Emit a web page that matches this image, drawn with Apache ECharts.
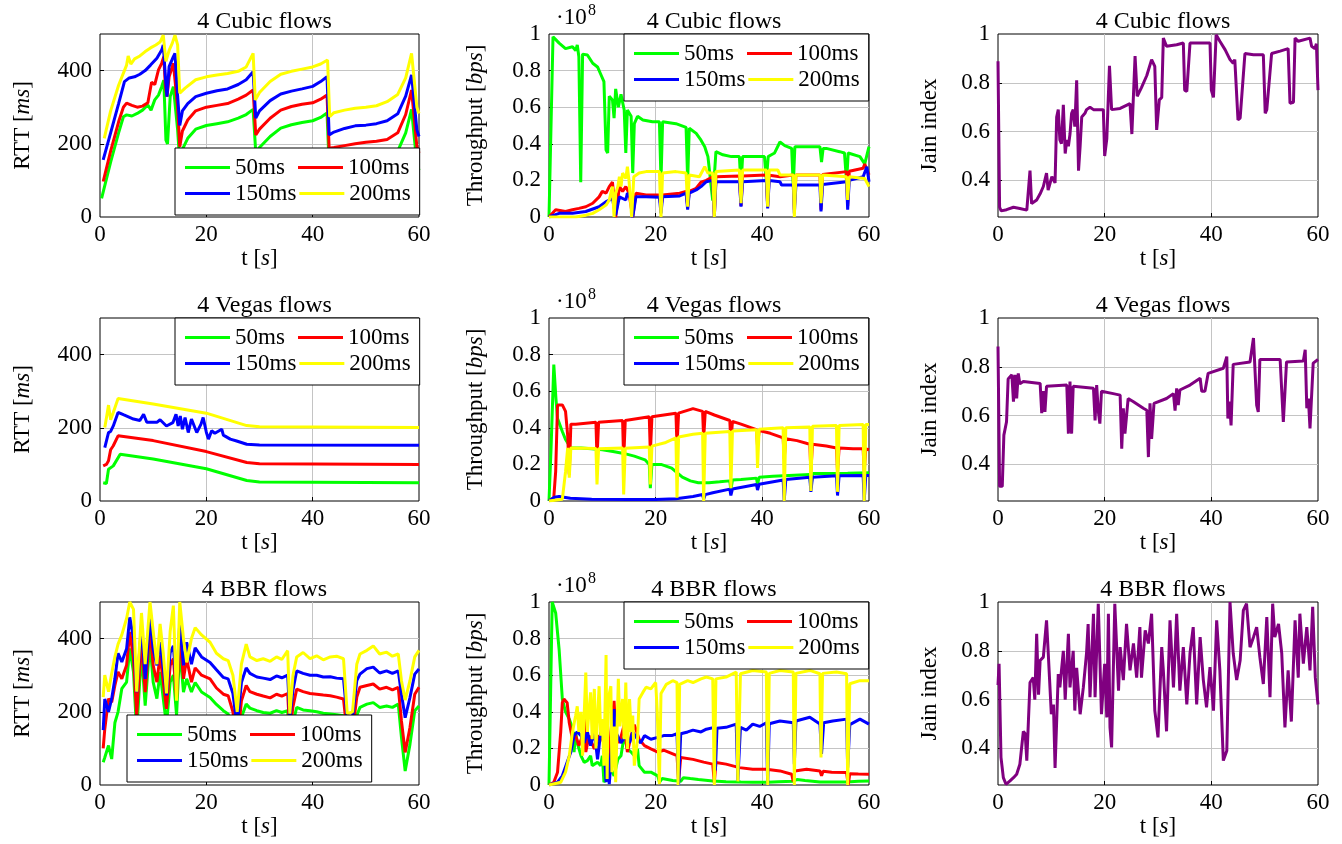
<!DOCTYPE html>
<html><head><meta charset="utf-8">
<script src="https://cdn.jsdelivr.net/npm/echarts@6/dist/echarts.min.js"></script>
<style>html,body{margin:0;padding:0;background:#fff}#c{width:1342px;height:844px}</style>
</head><body><div id="c"></div>
<script>
const FONT = '"Liberation Serif","Times New Roman",serif';
const flowNames = ['50ms','100ms','150ms','200ms'];
const flowColors = ['#00ff00','#ff0000','#0000ff','#ffff00'];
const jainColor = '#800080';
const rowTitles = ['4 Cubic flows','4 Vegas flows','4 BBR flows'];
const xTickLabels = [0,20,40,60];
const rttTickLabels = [0,200,400];
const thrTickLabels = [0,0.2,0.4,0.6,0.8,1];
const jainTickLabels = [0.4,0.6,0.8,1];

// ---------- Cubic RTT [ms] ----------
const cubicRtt50 = [[0.3,51],[2,150],[3.5,230],[4.4,274],[5,279],[6,276],[7,283],[8,292],[9,306],[9.6,292],[10.3,320],[11,333],[11.6,356],[12,374],[12.4,210],[12.7,200],[13.2,329],[13.8,356],[14.1,361],[14.6,238],[15,150],[15.5,185],[16.5,215],[18,240],[20,250],[22,255],[24,260],[26,270],[27.5,280],[28.8,294],[29.3,175],[30,190],[32,220],[34,243],[36,252],[38,258],[40,263],[41.5,272],[42.7,284],[43.1,140],[44,142],[46,147],[48,152],[50,155],[52,158],[54,163],[56,180],[57.5,230],[58.6,294],[59.6,145],[60,128]];
const cubicRtt100 = [[0.6,97],[2,180],[3.5,260],[4.4,300],[5,311],[6,305],[7,300],[8,303],[9,312],[9.7,368],[10.3,362],[11,402],[11.6,420],[12,438],[12.3,356],[12.6,329],[13,383],[13.8,420],[14.1,424],[14.6,300],[15,192],[15.5,235],[16.5,265],[18,290],[20,300],[22,305],[24,310],[26,322],[27.5,333],[28.8,347],[29.3,224],[30,240],[32,270],[34,292],[36,302],[38,308],[40,312],[41.5,322],[42.7,333],[43.1,188],[44,190],[46,195],[48,200],[50,204],[52,207],[54,212],[56,230],[57.5,280],[58.6,347],[59.6,192],[60,175]];
const cubicRtt150 = [[0.6,156],[2,230],[3.5,310],[4.6,370],[5.5,380],[6.5,383],[7.5,390],[8.5,400],[9.5,415],[10.7,434],[11.6,456],[11.9,470],[12.3,383],[12.6,329],[13,411],[13.8,438],[14.1,447],[14.6,330],[15,250],[15.5,290],[16.5,310],[18,329],[20,338],[22,345],[24,350],[26,362],[27.5,375],[28.8,397],[29.3,270],[30,290],[32,318],[34,336],[36,344],[38,350],[40,357],[41.5,370],[42.7,383],[43.1,224],[44,232],[46,242],[48,249],[50,251],[52,255],[54,263],[56,282],[57.5,330],[58.6,388],[59.6,238],[60,220]];
const cubicRtt200 = [[0.8,215],[2,290],[3.5,360],[5,415],[5.3,440],[5.8,418],[6.5,432],[7.5,440],[8.5,452],[9.5,462],[10.5,470],[11.3,478],[11.9,497],[12.4,425],[13,455],[13.6,475],[14.1,497],[14.6,470],[15,338],[16,352],[18,375],[20,383],[22,388],[24,392],[26,398],[27.5,410],[28.8,447],[29.2,320],[30,340],[32,370],[34,390],[36,398],[38,404],[40,410],[41.5,418],[42.8,429],[43.2,274],[44,285],[46,292],[48,297],[50,300],[52,304],[54,315],[56,335],[57.5,380],[58.6,447],[59.6,300],[60,283]];

// ---------- Cubic throughput [1e8 bps] ----------
const cubicThr50 = [[0,0],[0.75,0.985],[1.9,0.95],[3.1,0.92],[4.4,0.93],[5,0.91],[5.3,0.94],[5.6,0.876],[5.95,0.19],[6.3,0.89],[7.2,0.885],[8.2,0.84],[9.1,0.82],[9.7,0.78],[10.3,0.74],[10.7,0.366],[11,0.35],[11.3,0.66],[11.9,0.64],[12.2,0.54],[12.5,0.70],[13,0.60],[13.5,0.67],[14.1,0.585],[14.4,0.35],[14.7,0.585],[15.4,0.55],[15.7,0.24],[16,0.51],[16.6,0.55],[17.6,0.53],[19.4,0.52],[20.7,0.52],[21,0.2],[21.3,0.52],[23.8,0.51],[25.7,0.49],[26,0.2],[26.3,0.485],[27.6,0.457],[28.5,0.42],[29.2,0.384],[29.5,0.357],[29.8,0.33],[30.7,0.09],[31.3,0.357],[32.6,0.34],[34.2,0.33],[35.7,0.33],[36,0.166],[36.3,0.33],[39.5,0.33],[40.4,0.33],[40.75,0.2],[41.1,0.33],[41.7,0.34],[42.3,0.35],[43.3,0.41],[44.2,0.39],[45.5,0.375],[45.8,0.166],[46.1,0.384],[48.9,0.384],[50.8,0.384],[51.1,0.3],[51.4,0.375],[52,0.375],[54.5,0.357],[55.4,0.35],[55.8,0.19],[56.1,0.35],[58.3,0.33],[59.2,0.29],[60,0.384]];
const cubicThr100 = [[0,0],[1.25,0.04],[3.1,0.03],[4.4,0.04],[5.6,0.047],[6.9,0.056],[8.2,0.075],[9.4,0.11],[10,0.14],[10.7,0.13],[11.3,0.166],[11.9,0.19],[12.5,0.0],[13.2,0.166],[13.8,0.14],[14.4,0.166],[15,0.13],[15.7,0.0],[16.3,0.13],[18.2,0.12],[20.7,0.12],[21,0.05],[21.3,0.12],[24.5,0.13],[25.7,0.14],[26,0.06],[26.3,0.14],[27.6,0.157],[28.5,0.19],[29.5,0.2],[30.7,0.22],[31,0.0],[31.3,0.22],[35.7,0.224],[36,0.06],[36.3,0.224],[40.75,0.23],[41,0.06],[41.3,0.228],[43.3,0.22],[45.8,0.23],[46,0.04],[46.3,0.23],[50.8,0.23],[51,0.04],[51.3,0.232],[55.8,0.248],[56,0.06],[56.3,0.25],[58.9,0.266],[59.2,0.29],[60,0.23]];
const cubicThr150 = [[0,0],[1.9,0.02],[4.4,0.02],[6.9,0.03],[9.4,0.056],[10.7,0.084],[11.9,0.10],[12.5,0.01],[13.2,0.11],[14.4,0.093],[14.7,0.13],[15.4,0.1],[15.7,0.0],[16.3,0.11],[18.2,0.11],[20.7,0.108],[21,0.02],[21.3,0.11],[24.5,0.115],[25.7,0.13],[26,0.04],[26.3,0.13],[27.6,0.148],[28.5,0.166],[29.5,0.193],[30.7,0.2],[31,0.0],[31.3,0.193],[35.7,0.193],[36,0.056],[36.3,0.193],[40.75,0.2],[41,0.047],[41.3,0.2],[43.3,0.193],[43.6,0.175],[45.8,0.175],[46,0.02],[46.3,0.175],[50.8,0.175],[51,0.03],[51.3,0.177],[55.8,0.193],[56,0.04],[56.3,0.2],[58.9,0.22],[59.6,0.275],[60,0.193]];
const cubicThr200 = [[0,0],[5,0],[6.9,0.01],[8.2,0.02],[9.4,0.04],[10.7,0.065],[11.3,0.093],[11.6,0.13],[11.9,0.166],[12.2,0.0],[12.5,0.13],[12.9,0.166],[13.2,0.22],[13.5,0.166],[13.8,0.24],[14.4,0.21],[14.7,0.275],[15,0.2],[15.5,0.0],[15.9,0.22],[16.9,0.24],[18.2,0.248],[20.7,0.248],[21,0.0],[21.3,0.24],[23.8,0.248],[25.7,0.24],[26,0.056],[26.3,0.23],[28.2,0.22],[29.2,0.275],[29.8,0.24],[30.7,0.24],[31,0.0],[31.3,0.248],[35.7,0.257],[36,0.075],[36.3,0.257],[40.75,0.257],[41,0.056],[41.3,0.257],[42.9,0.257],[43.3,0.23],[45.8,0.23],[46,0.0],[46.3,0.23],[50.8,0.23],[51,0.075],[51.3,0.23],[55.8,0.22],[56,0.093],[56.3,0.22],[59.2,0.21],[60,0.166]];

// ---------- Cubic Jain index ----------
const cubicJain = [[0,0.888],[0.3,0.29],[0.6,0.275],[1.6,0.28],[2.9,0.29],[4.1,0.285],[5.4,0.278],[6,0.44],[6.3,0.305],[7.25,0.32],[7.9,0.345],[8.5,0.375],[9.1,0.43],[9.4,0.36],[10.1,0.415],[10.7,0.39],[11,0.66],[11.3,0.69],[11.6,0.566],[11.9,0.55],[12.25,0.71],[12.6,0.51],[12.9,0.566],[13.2,0.54],[13.5,0.59],[13.8,0.675],[14.1,0.69],[14.4,0.62],[14.75,0.81],[15.1,0.44],[15.4,0.54],[15.7,0.66],[16.3,0.675],[16.6,0.69],[17.25,0.70],[17.9,0.69],[19.1,0.69],[19.75,0.69],[20,0.5],[20.4,0.57],[20.9,0.87],[21.3,0.69],[22.9,0.695],[24.75,0.715],[25.1,0.59],[25.4,0.59],[25.7,0.91],[26.1,0.745],[26.9,0.78],[27.9,0.83],[28.8,0.895],[29.4,0.867],[29.75,0.607],[30.25,0.73],[30.7,0.74],[31,0.983],[31.6,0.95],[33.5,0.956],[34.75,0.963],[35,0.77],[35.4,0.765],[36,0.963],[39.1,0.963],[39.75,0.963],[40,0.77],[40.4,0.74],[40.9,0.997],[41.6,0.97],[42.6,0.935],[43.5,0.895],[44.1,0.88],[44.4,0.895],[45,0.648],[45.4,0.655],[46.3,0.92],[47.9,0.915],[49.75,0.915],[50.1,0.675],[50.4,0.69],[51.3,0.92],[52.9,0.93],[54.4,0.94],[54.75,0.716],[55.4,0.72],[55.7,0.983],[56.3,0.97],[58.5,0.983],[58.8,0.95],[59.4,0.94],[59.7,0.96],[60,0.77]];

// ---------- Vegas RTT [ms] ----------
const vegasRtt50 = [[0.6,50],[1.2,48],[1.6,87],[2.5,96],[3.8,128],[10,115],[20,88],[27.6,56],[30,52],[60,50]];
const vegasRtt100 = [[0.6,96],[1.2,100],[1.6,110],[2,140],[2.5,151],[3.4,178],[10,165],[20,135],[27.6,105],[30,102],[60,100]];
const vegasRtt150 = [[0.9,146],[1.6,187],[2,190],[2.5,205],[3.4,242],[4.5,235],[6.3,224],[7.5,220],[8.2,237],[8.8,215],[10.7,215],[11.3,222],[12.5,205],[13.7,214],[14.3,237],[14.7,205],[15.1,232],[15.5,196],[16,228],[16.6,187],[17.2,224],[18.2,187],[19,210],[19.4,228],[20,188],[20.4,169],[21,192],[21.6,185],[22.9,196],[23.2,180],[24.5,169],[25.7,164],[27.6,155],[30,153],[60,152]];
const vegasRtt200 = [[0.9,201],[1.3,235],[1.6,262],[2,222],[2.5,242],[3.4,280],[10,265],[20,240],[27.6,206],[30,203],[60,201]];

// ---------- Vegas throughput [1e8 bps] ----------
const vegasThr50 = [[0,0],[0.4,0.3],[0.9,0.745],[1.3,0.56],[1.6,0.45],[1.9,0.427],[2.5,0.38],[3.1,0.336],[4.1,0.29],[6,0.29],[8,0.285],[10,0.28],[12,0.27],[14,0.26],[16,0.245],[18,0.225],[18.8,0.2],[19,0.07],[19.3,0.2],[21,0.2],[23,0.18],[25,0.13],[26.5,0.11],[28,0.1],[30,0.1],[32,0.105],[33.9,0.11],[34.1,0.06],[34.4,0.115],[36,0.118],[38.9,0.125],[39.1,0.09],[39.4,0.13],[42,0.135],[45,0.14],[48.9,0.145],[49.1,0.07],[49.4,0.15],[52,0.15],[56,0.152],[60,0.155]];
const vegasThr100 = [[0,0],[0.9,0.02],[1.25,0.16],[1.6,0.525],[2.5,0.525],[3.1,0.49],[3.5,0.36],[3.8,0.145],[4.1,0.42],[5,0.42],[8.8,0.43],[9,0.23],[9.3,0.43],[13.8,0.44],[14,0.22],[14.3,0.44],[18.8,0.46],[19,0.26],[19.3,0.46],[23.8,0.48],[24,0.3],[24.3,0.48],[27,0.505],[28.8,0.49],[29,0.34],[29.3,0.49],[31,0.47],[33.9,0.44],[34.1,0.32],[34.4,0.435],[36,0.42],[38.9,0.39],[39.1,0.3],[39.4,0.385],[41.5,0.37],[43.9,0.345],[44.1,0.23],[44.4,0.34],[46.5,0.33],[48.9,0.31],[49.1,0.16],[49.4,0.31],[52,0.3],[53.9,0.29],[54.1,0.16],[54.4,0.29],[57,0.285],[58.9,0.285],[59.1,0.16],[59.4,0.285],[60,0.28]];
const vegasThr150 = [[0,0],[1,0.02],[1.9,0.025],[4,0.015],[8,0.01],[15,0.008],[20,0.008],[23.8,0.012],[27,0.025],[28.8,0.035],[29,0.01],[29.3,0.035],[30.7,0.045],[33.9,0.065],[34.1,0.03],[34.4,0.066],[38.9,0.09],[39.1,0.06],[39.4,0.092],[43.9,0.115],[44.1,0.0],[44.4,0.117],[48.9,0.13],[49.1,0.05],[49.4,0.13],[53.9,0.138],[54.1,0.03],[54.4,0.138],[58.9,0.14],[59.1,0.0],[59.4,0.14],[60,0.14]];
const vegasThr200 = [[0,0],[2.5,0.01],[3.1,0.16],[3.5,0.29],[3.8,0.127],[4.1,0.29],[8.8,0.287],[9,0.09],[9.3,0.285],[13.8,0.29],[14,0.036],[14.3,0.288],[18.8,0.295],[19,0.09],[19.3,0.3],[21.9,0.32],[23.8,0.345],[24,0.018],[24.3,0.35],[27,0.365],[28.8,0.37],[29,0.0],[29.3,0.37],[33.9,0.38],[34.1,0.07],[34.4,0.382],[38.9,0.39],[39.1,0.18],[39.4,0.392],[43.9,0.4],[44.1,0.0],[44.4,0.4],[48.9,0.405],[49.1,0.055],[49.4,0.408],[53.9,0.412],[54.1,0.05],[54.4,0.412],[58.9,0.418],[59.1,0.0],[59.4,0.418],[60,0.418]];

// ---------- Vegas Jain index ----------
const vegasJain = [[0,0.883],[0.3,0.31],[0.8,0.31],[1.1,0.52],[1.6,0.575],[1.9,0.75],[2.25,0.745],[2.6,0.767],[2.9,0.657],[3.2,0.767],[3.5,0.67],[3.8,0.773],[4.1,0.73],[4.75,0.74],[7.9,0.732],[8.2,0.61],[8.5,0.7],[8.8,0.615],[9.1,0.72],[9.4,0.725],[12.9,0.725],[13.2,0.526],[13.5,0.74],[13.8,0.526],[14.1,0.72],[17.9,0.712],[18.2,0.58],[18.5,0.725],[18.8,0.62],[19.1,0.567],[19.4,0.7],[21.6,0.69],[22.9,0.684],[23.2,0.464],[23.5,0.63],[23.8,0.526],[24.1,0.526],[24.4,0.67],[25.4,0.657],[27.25,0.63],[27.9,0.622],[28.2,0.43],[28.5,0.65],[28.8,0.505],[29.25,0.65],[31.6,0.67],[32.9,0.69],[33.2,0.62],[33.5,0.712],[33.8,0.643],[34.1,0.705],[36,0.725],[37.9,0.753],[38.2,0.7],[38.8,0.7],[39.4,0.773],[42.25,0.794],[42.9,0.842],[43.1,0.588],[43.4,0.657],[43.7,0.56],[44.1,0.81],[47.25,0.82],[47.9,0.918],[48.5,0.643],[48.8,0.615],[49.1,0.83],[52.9,0.83],[53.5,0.574],[54.1,0.82],[57.25,0.824],[57.6,0.87],[57.9,0.63],[58.2,0.67],[58.5,0.547],[59.1,0.815],[60,0.83]];

// ---------- BBR RTT [ms] ----------
const bbrRttT = [0.6,0.9,1.6,2.2,2.8,3.4,4.1,5.0,5.6,6.3,6.9,7.8,8.5,9.4,10.0,10.7,11.3,11.9,12.5,13.2,13.8,14.4,15.0,15.7,16.3,17.2,17.9,19.1,20.7,21.9,23.2,24.1,25.0,25.8,26.6,27.5,28.2,29.5,30.7,32,33.2,34.2,35.3,35.7,36.3,37,38.2,39.5,40.75,42,43.3,44.5,45.8,46.5,47.5,48.3,48.9,50.2,51.4,52.6,53.9,55,56.1,56.7,57.4,58.3,59.2,60];
const bbrRtt50 = [62,75,108,71,170,200,263,281,373,309,144,363,217,391,281,236,309,236,163,281,300,190,373,254,290,254,280,254,239,220,203,194,150,60,185,221,210,203,198,196,203,198,203,100,170,212,205,203,200,196,194,192,189,100,100,190,212,221,225,212,216,212,221,130,38,111,203,216];
const bbrRtt100 = [100,153,236,226,272,309,290,327,418,345,190,400,254,427,327,281,354,281,208,327,345,236,409,290,345,281,320,300,290,265,248,244,200,110,230,272,255,248,243,238,248,243,250,140,215,262,255,250,248,246,244,240,235,140,145,240,267,272,276,262,267,260,267,175,89,157,248,267];
const bbrRtt150 = [150,235,200,236,290,360,336,372,458,400,254,436,290,455,372,327,390,318,245,362,380,263,446,327,390,330,375,350,335,315,294,290,250,160,280,320,305,295,292,288,298,293,300,180,260,312,305,300,300,295,296,292,290,180,185,285,303,318,322,306,312,305,312,248,184,239,303,317];
const bbrRtt200 = [240,300,255,305,350,385,410,455,500,480,255,470,330,500,420,330,440,360,250,420,490,230,500,400,335,400,430,410,390,360,345,340,300,200,330,385,350,340,345,338,350,343,367,195,300,350,362,345,353,342,350,352,345,195,200,330,358,368,380,358,363,352,358,285,232,285,350,368];

// ---------- BBR throughput [1e8 bps] ----------
const bbrThr50 = [[0,0],[0.3,0.5],[0.6,1.0],[1.25,0.94],[1.9,0.74],[2.5,0.47],[3.1,0.4],[3.8,0.36],[4.4,0.31],[4.7,0.18],[5,0.29],[5.3,0.23],[6,0.16],[6.6,0.124],[7.2,0.133],[7.8,0.16],[8.1,0.106],[9.1,0.124],[9.7,0.106],[10,0.16],[10.3,0.015],[10.9,0.05],[11.6,0.087],[12.2,0.05],[12.9,0.14],[13.5,0.16],[14.1,0.27],[14.7,0.197],[15.4,0.18],[16,0.16],[16.6,0.197],[16.9,0.106],[17.9,0.07],[19.1,0.07],[20.4,0.05],[20.7,0.015],[21.2,0.035],[23.2,0.025],[24.7,0.02],[25.2,0.04],[26.5,0.035],[28,0.03],[30.7,0.022],[33.2,0.018],[36,0.016],[38.2,0.015],[41,0.015],[43,0.018],[45.8,0.02],[46.5,0.03],[48,0.025],[50.8,0.016],[53,0.016],[55.8,0.016],[58,0.02],[60,0.022]];
const bbrThr100 = [[0,0],[0.9,0.015],[1.6,0.07],[2.2,0.29],[2.5,0.45],[2.8,0.47],[3.4,0.45],[3.8,0.34],[4.4,0.25],[5,0.27],[5.6,0.215],[6.3,0.27],[6.6,0.38],[6.9,0.18],[7.5,0.27],[8.5,0.197],[9.4,0.27],[10,0.25],[10.7,0.197],[11,0.03],[11.6,0.29],[12.2,0.46],[12.5,0.29],[13.2,0.23],[14.1,0.33],[14.7,0.18],[15.4,0.27],[16,0.33],[16.9,0.25],[17.9,0.215],[19.1,0.197],[20.4,0.18],[21.5,0.19],[23.2,0.17],[24,0.16],[24.3,0.022],[24.7,0.15],[27,0.14],[29,0.125],[30.7,0.114],[31,0.013],[31.3,0.123],[33.2,0.114],[35.7,0.095],[38.2,0.086],[40.75,0.086],[43.3,0.077],[45.5,0.059],[45.8,0.02],[46.1,0.077],[48.3,0.086],[50.8,0.077],[51.1,0.05],[51.4,0.075],[53,0.07],[55.8,0.068],[56.1,0.0],[56.4,0.062],[58,0.06],[60,0.059]];
const bbrThr150 = [[0,0],[1.6,0.015],[2.5,0.05],[3.4,0.124],[4.1,0.18],[4.7,0.27],[5.3,0.29],[6,0.27],[6.6,0.23],[7.2,0.29],[7.8,0.215],[8.5,0.29],[9.1,0.14],[9.7,0.29],[10.3,0.25],[10.7,0.015],[11,0.2],[11.3,0.005],[11.9,0.25],[12.2,0.415],[12.5,0.29],[13.5,0.23],[14.4,0.27],[15.1,0.23],[15.7,0.29],[16.6,0.25],[17.2,0.23],[17.9,0.27],[19.1,0.25],[20.4,0.26],[21.5,0.27],[23,0.27],[24,0.28],[24.3,0.0],[24.7,0.28],[26,0.29],[27,0.3],[28.5,0.29],[29.5,0.305],[31,0.315],[31.2,0.08],[31.5,0.31],[33.2,0.315],[35.1,0.333],[35.4,0.022],[35.9,0.315],[37,0.3],[38.2,0.333],[39.5,0.32],[40.75,0.34],[41,0.0],[41.3,0.335],[43.3,0.35],[45.8,0.34],[46,0.114],[46.3,0.35],[48.9,0.37],[50.8,0.333],[51.1,0.17],[51.5,0.34],[53.2,0.35],[55.8,0.36],[56,0.095],[56.4,0.33],[58.3,0.36],[60,0.333]];
const bbrThr200 = [[0,0],[2.2,0.015],[3.1,0.07],[3.8,0.16],[4.4,0.29],[5,0.38],[5.3,0.43],[5.6,0.29],[6,0.4],[6.3,0.16],[6.9,0.615],[7.2,0.29],[7.8,0.506],[8.1,0.25],[8.5,0.525],[8.8,0.2],[9.4,0.54],[9.7,0.27],[10,0.36],[10.3,0.106],[10.7,0.71],[10.9,0.033],[11.1,0.47],[11.6,0.54],[11.8,0.07],[12.2,0.32],[12.5,0.015],[13,0.58],[13.3,0.32],[13.8,0.47],[14.1,0.25],[14.4,0.56],[14.7,0.197],[15.1,0.47],[15.4,0.29],[15.7,0.38],[16,0.106],[16.6,0.25],[16.9,0.47],[17.6,0.506],[18.2,0.534],[19.1,0.525],[20,0.56],[20.3,0.4],[20.7,0.005],[21,0.5],[22,0.55],[23.2,0.57],[24,0.56],[24.2,0.0],[24.5,0.55],[26,0.57],[27,0.56],[28.5,0.58],[29.5,0.59],[30.7,0.58],[31,0.0],[31.3,0.58],[33.2,0.59],[35.1,0.617],[35.4,0.02],[35.9,0.608],[38.2,0.626],[40.75,0.617],[41,0.0],[41.3,0.61],[43.3,0.626],[45.8,0.617],[46,0.0],[46.3,0.61],[48.9,0.626],[50.8,0.608],[51,0.15],[51.3,0.61],[53.9,0.617],[55.8,0.608],[56,0.0],[56.4,0.553],[58.3,0.57],[60,0.57]];

// ---------- BBR Jain index ----------
const bbrJain = [[0,0.66],[0.2,0.747],[0.56,0.363],[1,0.28],[1.5,0.253],[2.25,0.267],[2.9,0.28],[3.5,0.294],[4.1,0.335],[4.75,0.47],[5.1,0.46],[5.4,0.35],[5.7,0.51],[6,0.67],[6.6,0.69],[6.9,0.6],[7.25,0.87],[7.6,0.62],[7.9,0.76],[8.5,0.774],[9.1,0.925],[9.4,0.8],[10,0.54],[10.4,0.58],[10.7,0.32],[11.3,0.705],[11.6,0.65],[12.25,0.8],[12.6,0.6],[13.2,0.87],[13.5,0.65],[14.1,0.8],[14.4,0.555],[14.75,0.73],[15.4,0.54],[16,0.65],[16.6,0.79],[16.9,0.91],[17.25,0.61],[17.9,0.952],[18.2,0.61],[18.8,0.993],[19.4,0.54],[20,0.747],[20.4,0.527],[20.7,0.952],[21,0.486],[21.3,0.404],[21.9,0.993],[22.6,0.637],[22.9,0.815],[23.5,0.68],[24.1,0.91],[24.75,0.72],[25.4,0.83],[26,0.69],[26.6,0.897],[26.9,0.69],[27.6,0.884],[28.2,0.83],[28.8,0.952],[29.4,0.555],[30,0.445],[30.7,0.815],[31,0.72],[31.6,0.47],[32.25,0.925],[32.9,0.65],[33.2,0.79],[33.5,0.952],[34.1,0.637],[34.75,0.815],[35.4,0.58],[36,0.79],[36.6,0.897],[37.25,0.58],[37.9,0.856],[38.5,0.68],[39.1,0.568],[39.75,0.733],[40.4,0.555],[41,0.925],[41.6,0.72],[42.25,0.35],[42.9,0.39],[43.5,1.0],[44.1,0.79],[44.75,0.68],[45.4,0.76],[46,0.966],[46.6,0.993],[47.25,0.815],[47.9,0.856],[48.5,0.897],[49.1,0.774],[49.75,0.664],[50.4,0.938],[51,0.61],[51.5,0.993],[51.9,0.856],[52.6,0.91],[53.2,0.79],[53.8,0.486],[54.4,0.72],[55,0.51],[55.7,0.925],[56.3,0.69],[56.6,0.952],[57.25,0.747],[57.9,0.897],[58.5,0.72],[59,0.98],[59.5,0.69],[60,0.58]];

function zip(t, v) { return t.map((x, i) => [x, v[i]]); }

const rows = [
  { rtt: [cubicRtt50, cubicRtt100, cubicRtt150, cubicRtt200], thr: [cubicThr50, cubicThr100, cubicThr150, cubicThr200], jain: cubicJain,
    rttLeg: [175, 148], thrLeg: [624, 34] },
  { rtt: [vegasRtt50, vegasRtt100, vegasRtt150, vegasRtt200], thr: [vegasThr50, vegasThr100, vegasThr150, vegasThr200], jain: vegasJain,
    rttLeg: [175, 318], thrLeg: [624, 318] },
  { rtt: [zip(bbrRttT, bbrRtt50), zip(bbrRttT, bbrRtt100), zip(bbrRttT, bbrRtt150), zip(bbrRttT, bbrRtt200)], thr: [bbrThr50, bbrThr100, bbrThr150, bbrThr200], jain: bbrJain,
    rttLeg: [127, 715], thrLeg: [624, 602] }
];

const colLeft = [100, 549, 998], colW = [319, 320, 320];
const rowTop = [34, 318, 602], H = 183;

const txt = { fontFamily: FONT, fontSize: 23, color: '#000' };
const rich = { n: { fontFamily: FONT, fontSize: 23, color: '#000' }, i: { fontFamily: FONT, fontSize: 23, color: '#000', fontStyle: 'italic' } };
const splitStyle = { show: true, lineStyle: { color: '#c4c4c4', width: 1 } };

const grid = [], xAxis = [], yAxis = [], series = [], title = [], legend = [], graphic = [];

const yCfg = [
  { min: 0, max: 500, labels: rttTickLabels, ticks: [200, 400], name: '{n|RTT [}{i|ms}{n|]}', gap: 66 },
  { min: 0, max: 1, labels: thrTickLabels, ticks: [0.2, 0.4, 0.6, 0.8], name: '{n|Throughput [}{i|bps}{n|]}', gap: 62 },
  { min: 0.25, max: 1, labels: jainTickLabels, ticks: [0.4, 0.6, 0.8], name: '{n|Jain index}', gap: 57 }
];

function legendAt(pos) {
  return {
    left: pos[0], top: pos[1], orient: 'horizontal', width: 232, data: flowNames,
    icon: 'rect', itemWidth: 45, itemHeight: 3, itemGap: 3, padding: [8, 9, 10, 10],
    backgroundColor: '#fff', borderColor: '#000', borderWidth: 1, borderRadius: 0,
    selectedMode: false, formatter: '{a|{name}}',
    textStyle: { color: '#000', fontFamily: FONT, fontSize: 23,
      rich: { a: { width: 60, fontFamily: FONT, fontSize: 23, lineHeight: 24, color: '#000' } } }
  };
}

for (let r = 0; r < 3; r++) {
  for (let c = 0; c < 3; c++) {
    const idx = r * 3 + c;
    grid.push({ left: colLeft[c], top: rowTop[r], width: colW[c], height: H, show: true,
      borderColor: '#000', borderWidth: 1, backgroundColor: 'transparent' });
    xAxis.push({ gridIndex: idx, type: 'value', min: 0, max: 60,
      axisLine: { show: false },
      axisTick: { show: true, inside: true, length: 4, lineStyle: { color: '#000' }, customValues: [20, 40] },
      axisLabel: { ...txt, margin: 6, customValues: xTickLabels },
      splitLine: splitStyle,
      name: '{n|t [}{i|s}{n|]}', nameLocation: 'middle', nameGap: 30,
      nameTextStyle: { ...txt, rich: rich } });
    const yc = yCfg[c];
    yAxis.push({ gridIndex: idx, type: 'value', min: yc.min, max: yc.max,
      axisLine: { show: false },
      axisTick: { show: true, inside: true, length: 4, lineStyle: { color: '#000' }, customValues: yc.ticks },
      axisLabel: { ...txt, margin: 8, customValues: yc.labels },
      splitLine: splitStyle,
      name: yc.name, nameLocation: 'middle', nameGap: yc.gap,
      nameTextStyle: { ...txt, rich: rich } });
    title.push({ text: rowTitles[r], left: colLeft[c] + colW[c] / 2, top: rowTop[r] - 29, textAlign: 'center',
      textStyle: { fontFamily: FONT, fontSize: 24, fontWeight: 'normal', color: '#000' } });
  }
  for (let k = 0; k < 4; k++) {
    const base = { type: 'line', name: flowNames[k], showSymbol: false, symbol: 'none', clip: true,
      lineStyle: { width: 3, color: flowColors[k] }, itemStyle: { color: flowColors[k] } };
    series.push({ ...base, xAxisIndex: r * 3, yAxisIndex: r * 3, data: rows[r].rtt[k] });
    series.push({ ...base, xAxisIndex: r * 3 + 1, yAxisIndex: r * 3 + 1, data: rows[r].thr[k] });
  }
  series.push({ type: 'line', name: 'Jain', showSymbol: false, symbol: 'none', clip: true,
    xAxisIndex: r * 3 + 2, yAxisIndex: r * 3 + 2, data: rows[r].jain,
    lineStyle: { width: 3, color: jainColor }, itemStyle: { color: jainColor } });
  legend.push(legendAt(rows[r].rttLeg));
  legend.push(legendAt(rows[r].thrLeg));
  graphic.push({ type: 'text', x: 556, y: rowTop[r] - 16, style: { text: '\u00b710', font: '23px ' + FONT, fill: '#000', verticalAlign: 'middle', align: 'left' } });
  graphic.push({ type: 'text', x: 588, y: rowTop[r] - 23, style: { text: '8', font: '16px ' + FONT, fill: '#000', verticalAlign: 'middle', align: 'left' } });
}

const chart = echarts.init(document.getElementById('c'), null, { renderer: 'canvas' });
chart.setOption({ animation: false, backgroundColor: '#fff', grid, xAxis, yAxis, series, title, legend, graphic });
</script>
</body></html>
